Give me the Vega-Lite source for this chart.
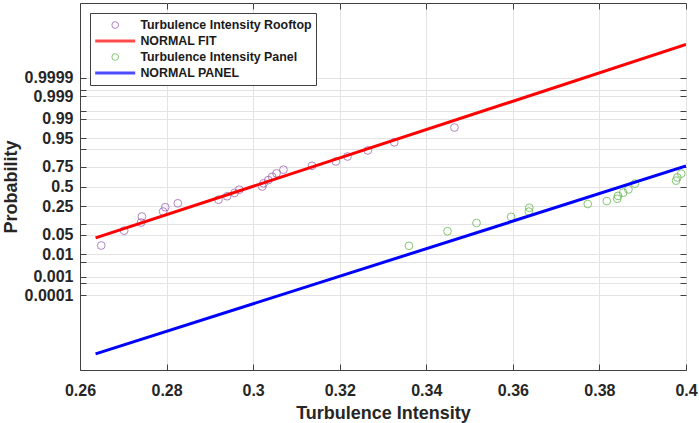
{
  "$schema": "https://vega.github.io/schema/vega-lite/v6.json",
  "width": 606,
  "height": 367,
  "autosize": {"type": "none"},
  "padding": {"left": 80, "top": 3, "right": 13, "bottom": 53},
  "background": "white",
  "config": {
    "font": "Liberation Sans",
    "view": {"stroke": "#404040", "strokeWidth": 1},
    "axis": {
      "labelFont": "Liberation Sans",
      "labelFontWeight": "bold",
      "labelFontSize": 16,
      "labelColor": "#262626",
      "titleFont": "Liberation Sans",
      "titleFontWeight": "bold",
      "titleFontSize": 18,
      "titleColor": "#262626",
      "gridColor": "#e3e3e3",
      "gridWidth": 1,
      "domainColor": "#404040",
      "tickColor": "#404040",
      "tickSize": -6,
      "labelFlush": false,
      "labelOverlap": false
    },
    "legend": {
      "title": null,
      "orient": "none",
      "legendX": 10,
      "legendY": 10,
      "fillColor": "white",
      "strokeColor": "#404040",
      "padding": 4,
      "clipHeight": 16,
      "rowPadding": 0,
      "labelOffset": 19,
      "symbolOffset": 15,
      "labelFont": "Liberation Sans",
      "labelFontWeight": "bold",
      "labelFontSize": 12.4,
      "labelColor": "#1a1a1a",
      "labelLimit": 300
    }
  },
  "layer": [
    {
      "data": {
        "values": [
          {"series": "Turbulence Intensity Rooftop", "ti": 0.2649, "z": -2.019},
          {"series": "Turbulence Intensity Rooftop", "ti": 0.2702, "z": -1.512},
          {"series": "Turbulence Intensity Rooftop", "ti": 0.2741, "z": -1.234},
          {"series": "Turbulence Intensity Rooftop", "ti": 0.2743, "z": -1.027},
          {"series": "Turbulence Intensity Rooftop", "ti": 0.2792, "z": -0.857},
          {"series": "Turbulence Intensity Rooftop", "ti": 0.2797, "z": -0.709},
          {"series": "Turbulence Intensity Rooftop", "ti": 0.2826, "z": -0.575},
          {"series": "Turbulence Intensity Rooftop", "ti": 0.2920, "z": -0.451},
          {"series": "Turbulence Intensity Rooftop", "ti": 0.2940, "z": -0.333},
          {"series": "Turbulence Intensity Rooftop", "ti": 0.2957, "z": -0.220},
          {"series": "Turbulence Intensity Rooftop", "ti": 0.2968, "z": -0.109},
          {"series": "Turbulence Intensity Rooftop", "ti": 0.3021, "z": 0.0},
          {"series": "Turbulence Intensity Rooftop", "ti": 0.3024, "z": 0.109},
          {"series": "Turbulence Intensity Rooftop", "ti": 0.3035, "z": 0.220},
          {"series": "Turbulence Intensity Rooftop", "ti": 0.3044, "z": 0.333},
          {"series": "Turbulence Intensity Rooftop", "ti": 0.3054, "z": 0.451},
          {"series": "Turbulence Intensity Rooftop", "ti": 0.3070, "z": 0.575},
          {"series": "Turbulence Intensity Rooftop", "ti": 0.3136, "z": 0.709},
          {"series": "Turbulence Intensity Rooftop", "ti": 0.3191, "z": 0.857},
          {"series": "Turbulence Intensity Rooftop", "ti": 0.3218, "z": 1.027},
          {"series": "Turbulence Intensity Rooftop", "ti": 0.3265, "z": 1.234},
          {"series": "Turbulence Intensity Rooftop", "ti": 0.3326, "z": 1.512},
          {"series": "Turbulence Intensity Rooftop", "ti": 0.3465, "z": 2.019},
          {"series": "Turbulence Intensity Panel", "ti": 0.3360, "z": -2.03},
          {"series": "Turbulence Intensity Panel", "ti": 0.3449, "z": -1.53},
          {"series": "Turbulence Intensity Panel", "ti": 0.3516, "z": -1.25},
          {"series": "Turbulence Intensity Panel", "ti": 0.3596, "z": -1.04},
          {"series": "Turbulence Intensity Panel", "ti": 0.3637, "z": -0.86},
          {"series": "Turbulence Intensity Panel", "ti": 0.3638, "z": -0.73},
          {"series": "Turbulence Intensity Panel", "ti": 0.3773, "z": -0.60},
          {"series": "Turbulence Intensity Panel", "ti": 0.3817, "z": -0.50},
          {"series": "Turbulence Intensity Panel", "ti": 0.3841, "z": -0.42},
          {"series": "Turbulence Intensity Panel", "ti": 0.3843, "z": -0.32},
          {"series": "Turbulence Intensity Panel", "ti": 0.3855, "z": -0.21},
          {"series": "Turbulence Intensity Panel", "ti": 0.3867, "z": -0.10},
          {"series": "Turbulence Intensity Panel", "ti": 0.3882, "z": 0.10},
          {"series": "Turbulence Intensity Panel", "ti": 0.3977, "z": 0.20},
          {"series": "Turbulence Intensity Panel", "ti": 0.3980, "z": 0.31},
          {"series": "Turbulence Intensity Panel", "ti": 0.3989, "z": 0.44}
        ]
      },
      "mark": {"type": "point", "filled": false, "size": 60, "strokeWidth": 1, "clip": true},
      "encoding": {
        "x": {
          "field": "ti",
          "type": "quantitative",
          "scale": {"domain": [0.26, 0.4], "nice": false, "zero": false},
          "axis": {
            "orient": "bottom",
            "values": [0.26, 0.28, 0.3, 0.32, 0.34, 0.36, 0.38, 0.4],
            "format": "~g",
            "grid": true,
            "labelPadding": 18,
            "title": "Turbulence Intensity",
            "titlePadding": 6
          }
        },
        "y": {
          "field": "z",
          "type": "quantitative",
          "scale": {"domain": [-6.28, 6.28], "nice": false, "zero": false},
          "axis": {
            "orient": "left",
            "values": [-3.719, -3.2905, -3.0902, -2.5758, -2.3263, -1.6449, -1.2816, -0.6745, 0, 0.6745, 1.2816, 1.6449, 2.3263, 2.5758, 3.0902, 3.2905, 3.719],
            "labelExpr": "datum.value > 3.5 ? '0.9999' : datum.value > 3.2 ? '' : datum.value > 3 ? '0.999' : datum.value > 2.5 ? '' : datum.value > 2.2 ? '0.99' : datum.value > 1.5 ? '0.95' : datum.value > 1 ? '' : datum.value > 0.5 ? '0.75' : datum.value > -0.5 ? '0.5' : datum.value > -1 ? '0.25' : datum.value > -1.5 ? '' : datum.value > -2 ? '0.05' : datum.value > -2.5 ? '0.01' : datum.value > -2.7 ? '' : datum.value > -3.2 ? '0.001' : datum.value > -3.5 ? '' : '0.0001'",
            "grid": true,
            "labelPadding": 13,
            "title": "Probability",
            "titlePadding": 4
          }
        },
        "color": {
          "field": "series",
          "type": "nominal",
          "scale": {
            "domain": ["Turbulence Intensity Rooftop", "NORMAL FIT", "Turbulence Intensity Panel", "NORMAL PANEL"],
            "range": ["#9050a8", "#ff0000", "#55b03a", "#0000ff"]
          },
          "legend": {
            "labelExpr": "datum.label == 'NORMAL FIT' || datum.label == 'NORMAL PANEL' ? '\u00a0\u00a0' + datum.label : datum.label",
            "symbolSize": {"expr": "datum.value == 'NORMAL FIT' || datum.value == 'NORMAL PANEL' ? 1600 : 45"},
            "symbolStrokeWidth": {"expr": "datum.value == 'NORMAL FIT' || datum.value == 'NORMAL PANEL' ? 3 : 1"}
          }
        },
        "shape": {
          "field": "series",
          "type": "nominal",
          "scale": {
            "domain": ["Turbulence Intensity Rooftop", "NORMAL FIT", "Turbulence Intensity Panel", "NORMAL PANEL"],
            "range": ["circle", "stroke", "circle", "stroke"]
          },
          "legend": {
            "labelExpr": "datum.label == 'NORMAL FIT' || datum.label == 'NORMAL PANEL' ? '\u00a0\u00a0' + datum.label : datum.label",
            "symbolSize": {"expr": "datum.value == 'NORMAL FIT' || datum.value == 'NORMAL PANEL' ? 1600 : 45"},
            "symbolStrokeWidth": {"expr": "datum.value == 'NORMAL FIT' || datum.value == 'NORMAL PANEL' ? 3 : 1"}
          }
        }
      }
    },
    {
      "data": {
        "values": [
          {"series": "NORMAL FIT", "ti": 0.2636, "z": -1.76},
          {"series": "NORMAL FIT", "ti": 0.4, "z": 4.86},
          {"series": "NORMAL PANEL", "ti": 0.2636, "z": -5.73},
          {"series": "NORMAL PANEL", "ti": 0.4, "z": 0.70}
        ]
      },
      "mark": {"type": "line", "strokeWidth": 3, "clip": true},
      "encoding": {
        "x": {
          "field": "ti",
          "type": "quantitative",
          "scale": {"domain": [0.26, 0.4], "nice": false, "zero": false},
          "axis": {
            "orient": "top",
            "values": [0.26, 0.28, 0.3, 0.32, 0.34, 0.36, 0.38, 0.4],
            "labels": false,
            "grid": false,
            "domain": false,
            "title": null
          }
        },
        "y": {
          "field": "z",
          "type": "quantitative",
          "scale": {"domain": [-6.28, 6.28], "nice": false, "zero": false},
          "axis": {
            "orient": "right",
            "values": [-3.719, -3.2905, -3.0902, -2.5758, -2.3263, -1.6449, -1.2816, -0.6745, 0, 0.6745, 1.2816, 1.6449, 2.3263, 2.5758, 3.0902, 3.2905, 3.719],
            "labels": false,
            "grid": false,
            "domain": false,
            "title": null
          }
        },
        "color": {"field": "series", "type": "nominal"}
      }
    }
  ],
  "resolve": {"axis": {"x": "independent", "y": "independent"}}
}
